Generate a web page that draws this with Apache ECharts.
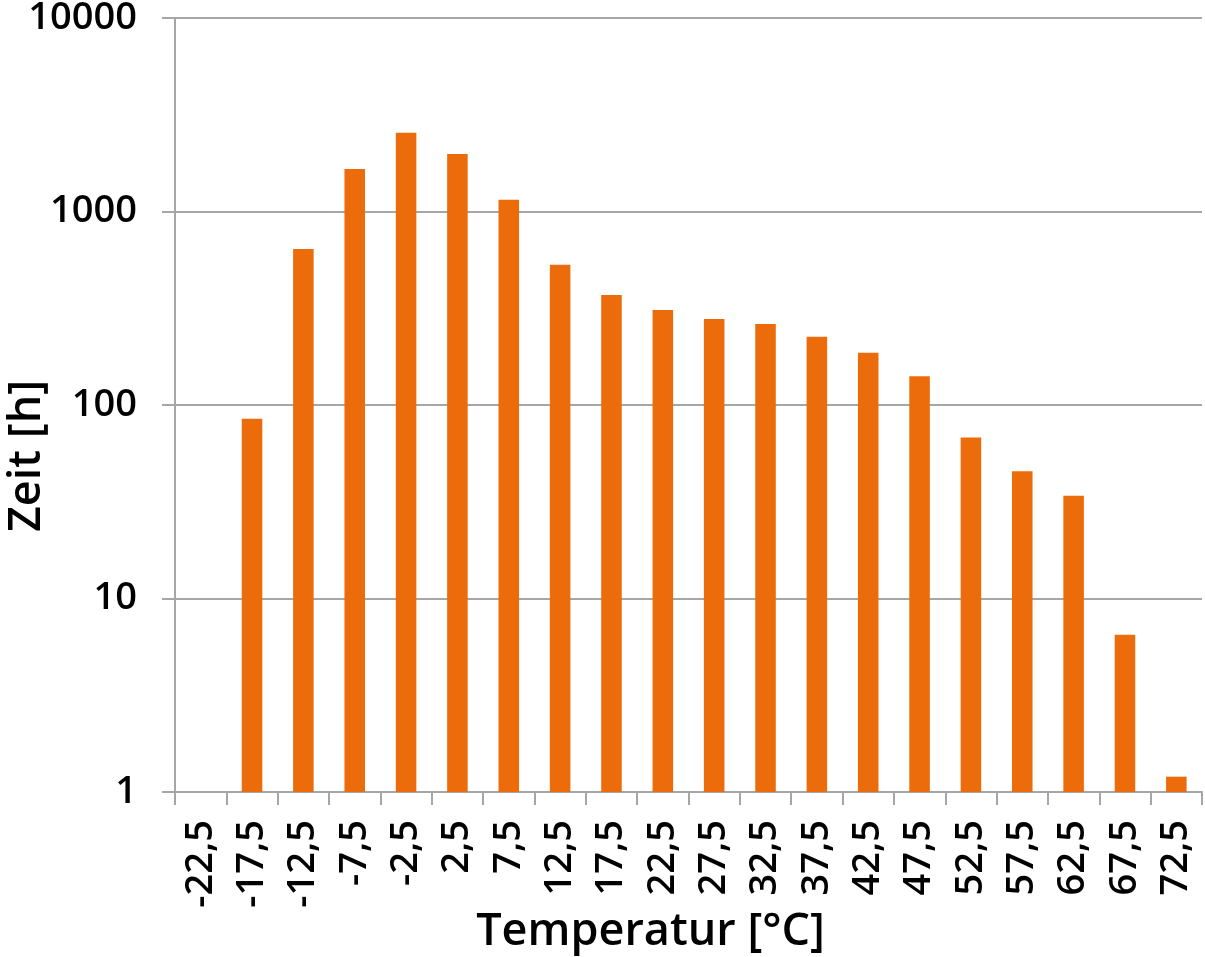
<!DOCTYPE html>
<html>
<head>
<meta charset="utf-8">
<script src="https://cdn.jsdelivr.net/npm/echarts@6/dist/echarts.min.js"></script>
<style>
  html, body { margin: 0; padding: 0; background: #fff; }
  #chart { width: 1205px; height: 957px; }
</style>
</head>
<body>
<div id="chart"></div>
<script>
// Temperature classes (°C) and time spent in each (hours)
const temperatures = ['-22,5', '-17,5', '-12,5', '-7,5', '-2,5', '2,5', '7,5', '12,5', '17,5', '22,5',
  '27,5', '32,5', '37,5', '42,5', '47,5', '52,5', '57,5', '62,5', '67,5', '72,5'];
const hours = [null, 85, 640, 1660, 2550, 1980, 1150, 530, 370, 310,
  278, 262, 225, 186, 141, 68, 45.5, 34, 6.5, 1.2];
const yTicks = [1, 10, 100, 1000, 10000];

const FONT = '"Open Sans", "Noto Sans", sans-serif';
const GRID_COLOR = '#a6a6a6';

const chart = echarts.init(document.getElementById('chart'), null, { renderer: 'canvas' });
chart.setOption({
  animation: false,
  backgroundColor: '#ffffff',
  grid: { left: 175, right: 3, top: 18, bottom: 165, containLabel: false, outerBoundsMode: 'none' },
  xAxis: {
    type: 'category',
    data: temperatures,
    name: 'Temperatur [°C]',
    nameLocation: 'middle',
    nameGap: 118,
    nameMoveOverlap: false,
    nameTextStyle: { fontFamily: FONT, fontSize: 45, fontWeight: 600, color: '#000', padding: [0, 76, 0, 0] },
    axisLine: { lineStyle: { color: GRID_COLOR, width: 2 } },
    axisTick: { show: true, alignWithLabel: false, length: 13, lineStyle: { color: GRID_COLOR, width: 2 } },
    axisLabel: { rotate: 90, margin: 28, fontFamily: FONT, fontSize: 38, fontWeight: 600, color: '#000', interval: 0 }
  },
  yAxis: {
    type: 'log',
    logBase: 10,
    min: 1,
    max: 10000,
    name: 'Zeit [h]',
    nameLocation: 'middle',
    nameGap: 125,
    nameMoveOverlap: false,
    nameTextStyle: { fontFamily: FONT, fontSize: 45, fontWeight: 600, color: '#000', padding: [0, 102, 0, 0] },
    axisLine: { show: true, lineStyle: { color: GRID_COLOR, width: 2 } },
    axisTick: { show: true, length: 13, lineStyle: { color: GRID_COLOR, width: 2 } },
    splitLine: { show: true, lineStyle: { color: GRID_COLOR, width: 2 } },
    axisLabel: {
      margin: 38, fontFamily: FONT, fontSize: 38, fontWeight: 600, color: '#000',
      formatter: v => (yTicks.includes(Math.round(v)) ? String(Math.round(v)) : '')
    }
  },
  series: [{
    type: 'bar',
    data: hours,
    barWidth: '40%',
    itemStyle: { color: '#ec6c0b' }
  }]
});
</script>
</body>
</html>
